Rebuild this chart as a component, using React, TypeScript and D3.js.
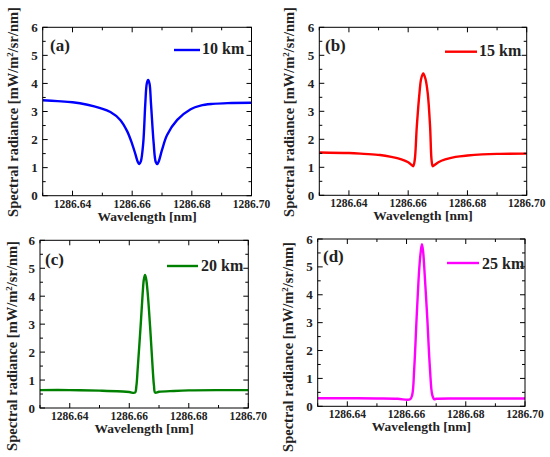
import React from 'react';
import * as d3 from 'd3';

// ---- data (wavelength in nm, spectral radiance in mW/m^2/sr/nm) ----
const wl10 = [1286.630, 1286.635, 1286.640, 1286.645, 1286.6493, 1286.6527, 1286.6560, 1286.6583, 1286.6600, 1286.6611, 1286.6619, 1286.6624, 1286.6629, 1286.6637, 1286.6644, 1286.6649, 1286.66534, 1286.6658, 1286.6663, 1286.6672, 1286.6679, 1286.6684, 1286.6689, 1286.6700, 1286.6717, 1286.6751, 1286.6796, 1286.6829, 1286.687, 1286.692, 1286.700];
const rad10 = [3.40, 3.37, 3.33, 3.24, 3.12, 2.98, 2.70, 2.30, 1.84, 1.47, 1.20, 1.13, 1.22, 1.87, 3.29, 4.00, 4.12, 4.00, 3.29, 1.87, 1.20, 1.13, 1.22, 1.63, 2.16, 2.70, 3.08, 3.21, 3.27, 3.30, 3.31];

const wl15 = [1286.630, 1286.640, 1286.645, 1286.6505, 1286.6543, 1286.6577, 1286.6600, 1286.6611, 1286.6617, 1286.6622, 1286.6629, 1286.6638, 1286.6644, 1286.6651, 1286.6658, 1286.6666, 1286.6674, 1286.6679, 1286.6683, 1286.6690, 1286.6702, 1286.6725, 1286.6760, 1286.680, 1286.685, 1286.690, 1286.700];
const rad15 = [1.53, 1.51, 1.48, 1.44, 1.37, 1.28, 1.18, 1.09, 1.04, 1.25, 2.44, 3.64, 4.17, 4.35, 4.17, 3.64, 2.44, 1.25, 1.04, 1.09, 1.18, 1.28, 1.37, 1.42, 1.46, 1.48, 1.49];

const wl20 = [1286.630, 1286.640, 1286.650, 1286.656, 1286.660, 1286.6619, 1286.6624, 1286.6628, 1286.6638, 1286.6645, 1286.6649, 1286.6653, 1286.6657, 1286.6662, 1286.6670, 1286.6679, 1286.6683, 1286.6687, 1286.670, 1286.675, 1286.680, 1286.690, 1286.700];
const rad20 = [0.64, 0.64, 0.62, 0.60, 0.57, 0.55, 0.80, 1.36, 2.91, 4.10, 4.60, 4.76, 4.60, 4.10, 2.91, 1.36, 0.80, 0.55, 0.58, 0.61, 0.63, 0.64, 0.64];

const wl25 = [1286.630, 1286.640, 1286.650, 1286.657, 1286.6612, 1286.6619, 1286.6626, 1286.6634, 1286.6643, 1286.6648, 1286.6652, 1286.6656, 1286.6660, 1286.6670, 1286.6679, 1286.6687, 1286.6694, 1286.670, 1286.680, 1286.690, 1286.700];
const rad25 = [0.29, 0.29, 0.28, 0.27, 0.25, 0.40, 1.36, 3.16, 4.95, 5.55, 5.81, 5.55, 4.95, 3.16, 1.36, 0.40, 0.25, 0.27, 0.28, 0.28, 0.28];

const seriesNames = ['10 km', '15 km', '20 km', '25 km'];
const panelTags = ['(a)', '(b)', '(c)', '(d)'];
const xTicks = [1286.64, 1286.66, 1286.68, 1286.70];
const xMinorTicks = [1286.63, 1286.65, 1286.67, 1286.69];
const yTicks = [0, 1, 2, 3, 4, 5, 6];
const yMinorTicks = [0.5, 1.5, 2.5, 3.5, 4.5, 5.5];
const xDomain = [1286.63, 1286.70];
const yDomain = [0, 6];

const wls = [wl10, wl15, wl20, wl25];
const rads = [rad10, rad15, rad20, rad25];

// ---- layout ----
const colors = ['#0000ff', '#ff0000', '#008000', '#ff00ff'];
const layouts = [
  { l: 42.7, r: 251.5, t: 27.3, b: 195.7, ylx: 18, yly: 112, tagX: 50, tagY: 51, legX1: 174, legX2: 200, legY: 50, legTX: 202, legTY: 54 },
  { l: 319.3, r: 526.7, t: 27.3, b: 195.3, ylx: 294, yly: 112, tagX: 325, tagY: 51, legX1: 445, legX2: 477, legY: 51.7, legTX: 479, legTY: 56 },
  { l: 40, r: 248.3, t: 240.3, b: 408, ylx: 17, yly: 346, tagX: 45, tagY: 265, legX1: 167, legX2: 198, legY: 266, legTX: 201, legTY: 270.5 },
  { l: 317.7, r: 525, t: 239, b: 406.3, ylx: 293, yly: 347, tagX: 323, tagY: 262, legX1: 447, legX2: 479, legY: 263, legTX: 482, legTY: 268.5 },
];

const FONT = '"Liberation Serif", "Times New Roman", serif';

function Panel({ i }: { i: number }) {
  const L = layouts[i];
  const x = d3.scaleLinear().domain(xDomain).range([L.l, L.r]);
  const y = d3.scaleLinear().domain(yDomain).range([L.b, L.t]);
  const pts = wls[i].map((w, k) => [w, rads[i][k]] as [number, number]);
  const line = d3.line<[number, number]>().x(d => x(d[0])).y(d => y(d[1])).curve(d3.curveCatmullRom.alpha(0.5));
  const fmt = d3.format('.2f');
  const maj = 5, mn = 3;
  return (
    <g>
      <defs>
        <clipPath id={`clip${i}`}>
          <rect x={L.l} y={L.t - 2} width={L.r - L.l} height={L.b - L.t + 2} />
        </clipPath>
      </defs>
      <path d={line(pts) || ''} fill="none" stroke={colors[i]} strokeWidth={2.4} strokeLinejoin="round" clipPath={`url(#clip${i})`} />
      <rect x={L.l} y={L.t} width={L.r - L.l} height={L.b - L.t} fill="none" stroke="#000" strokeWidth={1} />
      {xTicks.map(v => (
        <g key={'xt' + v}>
          <line x1={x(v)} x2={x(v)} y1={L.b} y2={L.b - maj} stroke="#000" />
          <line x1={x(v)} x2={x(v)} y1={L.t} y2={L.t + maj} stroke="#000" />
          <text x={x(v)} y={L.b + 12} textAnchor="middle" fontSize={11.5} fontWeight="bold" fontFamily={FONT} fill="#222">{fmt(v)}</text>
        </g>
      ))}
      {xMinorTicks.map(v => (
        <g key={'xm' + v}>
          <line x1={x(v)} x2={x(v)} y1={L.b} y2={L.b - mn} stroke="#000" />
          <line x1={x(v)} x2={x(v)} y1={L.t} y2={L.t + mn} stroke="#000" />
        </g>
      ))}
      {yTicks.map(v => (
        <g key={'yt' + v}>
          <line x1={L.l} x2={L.l + maj} y1={y(v)} y2={y(v)} stroke="#000" />
          <line x1={L.r} x2={L.r - maj} y1={y(v)} y2={y(v)} stroke="#000" />
          <text x={L.l - 5} y={y(v) + 4.5} textAnchor="end" fontSize={13} fontWeight="bold" fontFamily={FONT} fill="#222">{v}</text>
        </g>
      ))}
      {yMinorTicks.map(v => (
        <g key={'ym' + v}>
          <line x1={L.l} x2={L.l + mn} y1={y(v)} y2={y(v)} stroke="#000" />
          <line x1={L.r} x2={L.r - mn} y1={y(v)} y2={y(v)} stroke="#000" />
        </g>
      ))}
      <text x={(L.l + L.r) / 2} y={L.b + 25} textAnchor="middle" fontSize={13.5} fontWeight="bold" fontFamily={FONT} fill="#222">Wavelength [nm]</text>
      <text transform={`translate(${L.ylx},${L.yly}) rotate(-90)`} textAnchor="middle" fontSize={14.5} fontWeight="bold" fontFamily={FONT} fill="#222">
        Spectral radiance [mW/m<tspan dy={-5} fontSize={9}>2</tspan><tspan dy={5}>/sr/nm]</tspan>
      </text>
      <text x={L.tagX} y={L.tagY} fontSize={17} fontWeight="bold" fontFamily={FONT} fill="#222">{panelTags[i]}</text>
      <line x1={L.legX1} x2={L.legX2} y1={L.legY} y2={L.legY} stroke={colors[i]} strokeWidth={2.4} />
      <text x={L.legTX} y={L.legTY} fontSize={16} fontWeight="bold" fontFamily={FONT} fill="#222">{seriesNames[i]}</text>
    </g>
  );
}

export default function App() {
  return (
    <svg width={550} height={457} style={{ position: 'absolute', left: 0, top: 0, background: '#fff' }}>
      <rect x={0} y={0} width={550} height={457} fill="#fff" />
      {[0, 1, 2, 3].map(i => <Panel key={i} i={i} />)}
    </svg>
  );
}
